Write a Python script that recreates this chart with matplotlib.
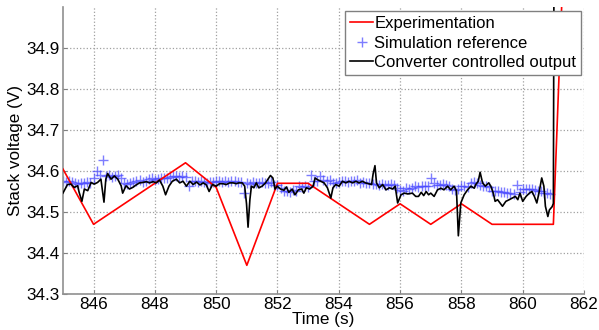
import matplotlib
matplotlib.use("Agg")
import matplotlib.pyplot as plt
import numpy as np

plt.rcParams["font.family"] = ["Liberation Sans", "DejaVu Sans"]

# Experimentation (red, piecewise linear)
exp_t = [845.0, 846.0, 849.0, 850.0, 851.0, 852.0, 853.0, 855.0, 856.0,
         857.0, 858.0, 859.0, 861.0, 861.27]
exp_v = [34.605, 34.47, 34.62, 34.56, 34.37, 34.57, 34.57, 34.47, 34.52,
         34.47, 34.52, 34.47, 34.47, 35.0]

# Converter controlled output (black)
conv_t = [845.00, 845.15, 845.26, 845.37, 845.48, 845.53, 845.62, 845.70, 845.81,
          845.92, 846.02, 846.13, 846.24, 846.34, 846.40, 846.46, 846.57, 846.68,
          846.79, 846.90, 846.95, 847.06, 847.17, 847.28, 847.39, 847.50, 847.61,
          847.72, 847.83, 847.94, 848.05, 848.15, 848.26, 848.35, 848.46, 848.57,
          848.70, 848.81, 848.92, 849.03, 849.14, 849.25, 849.36, 849.47, 849.58,
          849.68, 849.77, 849.88, 850.00, 850.11, 850.22, 850.33, 850.44, 850.55,
          850.66, 850.74, 850.85, 850.93, 850.99, 851.04, 851.10, 851.15, 851.23,
          851.31, 851.39, 851.50, 851.61, 851.69, 851.77, 851.85, 851.92, 851.99,
          852.10, 852.21, 852.29, 852.37, 852.48, 852.57, 852.68, 852.79, 852.86,
          852.94, 853.05, 853.16, 853.23, 853.30, 853.41, 853.52, 853.63, 853.74,
          853.81, 853.90, 854.01, 854.12, 854.23, 854.34, 854.45, 854.56, 854.66,
          854.77, 854.87, 855.07, 855.12, 855.18, 855.23, 855.32, 855.43, 855.54,
          855.65, 855.76, 855.84, 855.92, 856.03, 856.14, 856.25, 856.40, 856.51,
          856.60, 856.69, 856.77, 856.85, 856.93, 857.00, 857.11, 857.22, 857.33,
          857.43, 857.55, 857.65, 857.76, 857.84, 857.90, 857.98, 858.09, 858.20,
          858.31, 858.42, 858.47, 858.55, 858.61, 858.69, 858.78, 858.89, 858.96,
          859.04, 859.10, 859.18, 859.26, 859.34, 859.45, 859.56, 859.66, 859.76,
          859.84, 859.91, 860.00, 860.11, 860.22, 860.30, 860.38, 860.46, 860.54,
          860.62, 860.69, 860.74, 860.82, 860.87, 860.96, 861.00, 861.02]
conv_v = [34.546, 34.567, 34.568, 34.560, 34.564, 34.548, 34.526, 34.556, 34.552,
          34.572, 34.568, 34.572, 34.580, 34.524, 34.580, 34.594, 34.580, 34.588,
          34.580, 34.564, 34.546, 34.564, 34.556, 34.560, 34.566, 34.571, 34.572,
          34.574, 34.571, 34.574, 34.571, 34.578, 34.563, 34.542, 34.563, 34.575,
          34.580, 34.571, 34.575, 34.563, 34.575, 34.567, 34.573, 34.566, 34.571,
          34.566, 34.550, 34.567, 34.563, 34.569, 34.569, 34.567, 34.571, 34.571,
          34.569, 34.571, 34.571, 34.563, 34.520, 34.463, 34.530, 34.563, 34.559,
          34.571, 34.559, 34.563, 34.571, 34.580, 34.589, 34.583, 34.556, 34.563,
          34.556, 34.553, 34.561, 34.548, 34.556, 34.542, 34.554, 34.556, 34.546,
          34.559, 34.556, 34.563, 34.583, 34.579, 34.575, 34.571, 34.559, 34.534,
          34.559, 34.567, 34.563, 34.575, 34.571, 34.575, 34.571, 34.575, 34.571,
          34.575, 34.571, 34.567, 34.593, 34.613, 34.571, 34.559, 34.567, 34.554,
          34.559, 34.556, 34.563, 34.522, 34.542, 34.546, 34.544, 34.546, 34.538,
          34.538, 34.548, 34.540, 34.550, 34.542, 34.546, 34.538, 34.554, 34.558,
          34.554, 34.563, 34.554, 34.563, 34.551, 34.442, 34.522, 34.542, 34.554,
          34.563, 34.558, 34.567, 34.575, 34.597, 34.571, 34.563, 34.571, 34.563,
          34.546, 34.526, 34.530, 34.522, 34.514, 34.526, 34.530, 34.534, 34.538,
          34.530, 34.546, 34.526, 34.538, 34.546, 34.550, 34.538, 34.522, 34.550,
          34.583, 34.563, 34.514, 34.489, 34.505, 34.513, 34.521, 35.1]

# Simulation reference (blue +), one sample every 0.1 s from 845.0
sim_t0 = 845.0
sim_dt = 0.1
sim_v = [34.575, 34.573, 34.576, 34.572, 34.571, 34.569, 34.571, 34.570, 34.572, 34.571,
         34.583, 34.600, 34.590, 34.627, 34.588, 34.590, 34.586, 34.588, 34.589, 34.583,
         34.571, 34.569, 34.570, 34.572, 34.575, 34.577, 34.574, 34.576, 34.580, 34.583,
         34.579, 34.581, 34.583, 34.584, 34.582, 34.585, 34.587, 34.588, 34.586, 34.587,
         34.585, 34.563, 34.576, 34.575, 34.574, 34.576, 34.573, 34.571, 34.574, 34.572,
         34.575, 34.576, 34.574, 34.575, 34.573, 34.576, 34.575, 34.574, 34.573, 34.546,
         34.571, 34.569, 34.572, 34.570, 34.571, 34.572, 34.570, 34.571, 34.573, 34.566,
         34.565, 34.558, 34.552, 34.550, 34.548, 34.553, 34.551, 34.563, 34.561, 34.563,
         34.562, 34.589, 34.575, 34.576, 34.588, 34.577, 34.575, 34.578, 34.571, 34.570,
         34.572, 34.575, 34.576, 34.574, 34.576, 34.575, 34.577, 34.571, 34.572, 34.570,
         34.571, 34.569, 34.568, 34.567, 34.569, 34.567, 34.566, 34.568, 34.567, 34.558,
         34.554, 34.552, 34.558, 34.556, 34.559, 34.563, 34.562, 34.564, 34.563, 34.563,
         34.583, 34.571, 34.567, 34.566, 34.568, 34.566, 34.563, 34.555, 34.554, 34.556,
         34.563, 34.564, 34.562, 34.571, 34.572, 34.570, 34.565, 34.563, 34.564, 34.562,
         34.552, 34.550, 34.551, 34.549, 34.548, 34.546, 34.547, 34.545, 34.567, 34.548,
         34.556, 34.555, 34.556, 34.557, 34.553, 34.552, 34.550, 34.546, 34.547, 34.545]

sim_t = sim_t0 + sim_dt * np.arange(len(sim_v))

fig = plt.figure(figsize=(5.99, 3.30), dpi=100)
ax = fig.add_axes([0.105, 0.109, 0.870, 0.870])

ax.plot(exp_t, exp_v, color="#ff0000", lw=1.2, label="Experimentation", zorder=3)
ax.plot(sim_t, sim_v, ls="none", marker="+", ms=6.5, mew=1.0, color="#4646ff",
        alpha=0.7, label="Simulation reference", zorder=2)
ax.plot(conv_t, conv_v, color="black", lw=1.2, label="Converter controlled output", zorder=4)

ax.set_xlim(845, 862)
ax.set_ylim(34.3, 35.0)
ax.set_xticks(np.arange(846, 863, 2))
ax.set_yticks([34.3, 34.4, 34.5, 34.6, 34.7, 34.8, 34.9])
ax.tick_params(direction="in", length=3, labelsize=12.3, color="#808080", pad=2)
ax.grid(True, ls=":", color="#a0a0a0", lw=0.9)
for s in ["top", "right"]:
    ax.spines[s].set_visible(False)
for s in ["left", "bottom"]:
    ax.spines[s].set_color("#909090")
    ax.spines[s].set_linewidth(1.2)

ax.set_xlabel("Time (s)", fontsize=12.3, labelpad=0)
ax.set_ylabel("Stack voltage (V)", fontsize=12.3, labelpad=3)

leg = ax.legend(loc="upper right", bbox_to_anchor=(0.995, 0.985), borderaxespad=0,
                fontsize=12, fancybox=False, framealpha=1, edgecolor="#808080",
                handlelength=1.35, handletextpad=0.1, borderpad=0.3, labelspacing=0.27)
leg.get_frame().set_linewidth(1.0)
leg.set_zorder(10)

fig.savefig("out.png", dpi=100)
